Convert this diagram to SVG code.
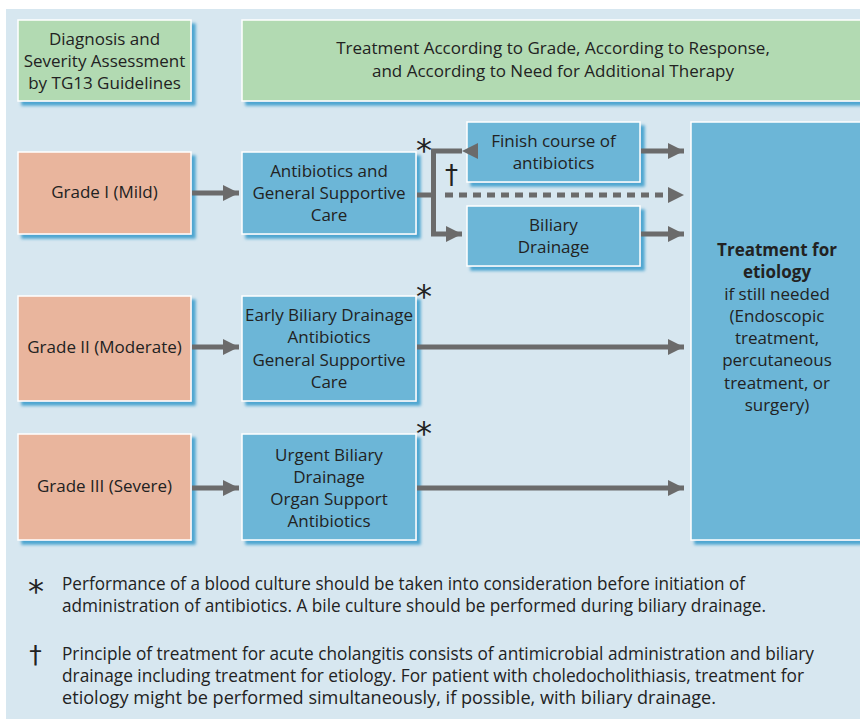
<svg xmlns="http://www.w3.org/2000/svg" width="860" height="719" viewBox="0 0 860 719">
<defs>
<filter id="sh" x="-10%" y="-10%" width="130%" height="130%">
<feGaussianBlur in="SourceAlpha" stdDeviation="1.5" result="b"/>
<feOffset in="b" dx="4" dy="4" result="o"/>
<feFlood flood-color="#4ea6d0"/>
<feComposite in2="o" operator="in" result="s"/>
<feMerge><feMergeNode in="s"/><feMergeNode in="SourceGraphic"/></feMerge>
</filter>
<marker id="ah" viewBox="0 0 16 16" refX="16" refY="8" markerWidth="16" markerHeight="16" markerUnits="userSpaceOnUse" orient="auto">
<path d="M0,0 L16,8 L0,16 Z" fill="#6b6b6b"/>
</marker>
<style>
.box{stroke:#ffffff;stroke-width:1.5;filter:url(#sh)}
.g{fill:#b2dab2}
.s{fill:#e9b59d}
.b{fill:#6cb6d7}
text{font-family:"Open Sans","Noto Sans",sans-serif;font-size:17px;fill:#222222;text-anchor:middle}
.bold{font-weight:bold}
.fn{text-anchor:start;font-size:17.5px}
.ln{stroke:#6b6b6b;stroke-width:5;fill:none}
.ast{font-family:"DejaVu Sans",sans-serif;font-size:32px}
.dg{font-family:"DejaVu Sans",sans-serif;font-size:26px}
</style>
</defs>
<rect x="0" y="0" width="860" height="719" fill="#ffffff"/>
<rect x="6" y="9" width="854" height="710" fill="#d7e7f0"/>

<g id="hdr1">
<rect class="box g" x="18" y="20" width="173" height="81"/>
<text x="104.5" y="45">Diagnosis and</text>
<text x="104.5" y="67">Severity Assessment</text>
<text x="104.5" y="89">by TG13 Guidelines</text>
</g>
<g id="hdr2">
<rect class="box g" x="242" y="20" width="625" height="81"/>
<text x="553" y="54">Treatment According to Grade, According to Response,</text>
<text x="553" y="77">and According to Need for Additional Therapy</text>
</g>

<g id="grade1">
<rect class="box s" x="18" y="152" width="173" height="82"/>
<text x="104.5" y="198">Grade I (Mild)</text>
</g>
<g id="abx1">
<rect class="box b" x="242" y="152" width="174" height="82"/>
<text x="329" y="177">Antibiotics and</text>
<text x="329" y="199">General Supportive</text>
<text x="329" y="221">Care</text>
</g>
<g id="finish">
<rect class="box b" x="467" y="122" width="173" height="60"/>
<text x="553.5" y="147">Finish course of</text>
<text x="553.5" y="169">antibiotics</text>
</g>
<g id="biliary">
<rect class="box b" x="467" y="206" width="173" height="60"/>
<text x="553.5" y="231">Biliary</text>
<text x="553.5" y="253">Drainage</text>
</g>
<g id="etiology">
<rect class="box b" x="691" y="122" width="176" height="418"/>
<text class="bold" x="777" y="256">Treatment for</text>
<text class="bold" x="777" y="278">etiology</text>
<text x="777" y="300">if still needed</text>
<text x="777" y="322">(Endoscopic</text>
<text x="777" y="344">treatment,</text>
<text x="777" y="366">percutaneous</text>
<text x="777" y="389">treatment, or</text>
<text x="777" y="411">surgery)</text>
</g>
<g id="grade2">
<rect class="box s" x="18" y="296" width="173" height="105"/>
<text x="104.5" y="353">Grade II (Moderate)</text>
</g>
<g id="early">
<rect class="box b" x="242" y="296" width="174" height="105"/>
<text x="329" y="321">Early Biliary Drainage</text>
<text x="329" y="343">Antibiotics</text>
<text x="329" y="366">General Supportive</text>
<text x="329" y="388">Care</text>
</g>
<g id="grade3">
<rect class="box s" x="18" y="434" width="173" height="106"/>
<text x="104.5" y="492">Grade III (Severe)</text>
</g>
<g id="urgent">
<rect class="box b" x="242" y="434" width="174" height="106"/>
<text x="329" y="461">Urgent Biliary</text>
<text x="329" y="483">Drainage</text>
<text x="329" y="505">Organ Support</text>
<text x="329" y="527">Antibiotics</text>
</g>

<g id="connectors">
<line class="ln" x1="192" y1="193" x2="239" y2="193" marker-end="url(#ah)"/>
<line class="ln" x1="192" y1="347" x2="239" y2="347" marker-end="url(#ah)"/>
<line class="ln" x1="192" y1="488" x2="239" y2="488" marker-end="url(#ah)"/>
<line class="ln" x1="417" y1="195" x2="436" y2="195"/>
<path class="ln" d="M462,151 H433.5 V234 H462" marker-start="url(#ah)" marker-end="url(#ah)" style="stroke-linejoin:miter"/>
<line x1="445" y1="195" x2="670" y2="195" stroke="#6b6b6b" stroke-width="5" stroke-dasharray="8,6"/>
<path d="M668,187 L684,195 L668,203 Z" fill="#6b6b6b"/>
<line class="ln" x1="641" y1="151" x2="684" y2="151" marker-end="url(#ah)"/>
<line class="ln" x1="641" y1="234" x2="684" y2="234" marker-end="url(#ah)"/>
<line class="ln" x1="417" y1="347" x2="684" y2="347" marker-end="url(#ah)"/>
<line class="ln" x1="417" y1="488" x2="684" y2="488" marker-end="url(#ah)"/>
</g>

<g id="marks">
<text class="ast" x="424" y="161">*</text>
<text class="dg" x="451.5" y="184">†</text>
<text class="ast" x="424" y="307">*</text>
<text class="ast" x="424" y="444">*</text>
</g>

<g id="notes">
<text class="ast" x="36" y="602">*</text>
<text class="fn" x="62" y="590" textLength="683" lengthAdjust="spacingAndGlyphs">Performance of a blood culture should be taken into consideration before initiation of</text>
<text class="fn" x="62" y="612" textLength="704" lengthAdjust="spacingAndGlyphs">administration of antibiotics. A bile culture should be performed during biliary drainage.</text>
<text class="dg" x="35.5" y="663" style="font-size:25px">†</text>
<text class="fn" x="62" y="660" textLength="752" lengthAdjust="spacingAndGlyphs">Principle of treatment for acute cholangitis consists of antimicrobial administration and biliary</text>
<text class="fn" x="62" y="682" textLength="742" lengthAdjust="spacingAndGlyphs">drainage including treatment for etiology. For patient with choledocholithiasis, treatment for</text>
<text class="fn" x="62" y="704" textLength="654" lengthAdjust="spacingAndGlyphs">etiology might be performed simultaneously, if possible, with biliary drainage.</text>
</g>
</svg>
